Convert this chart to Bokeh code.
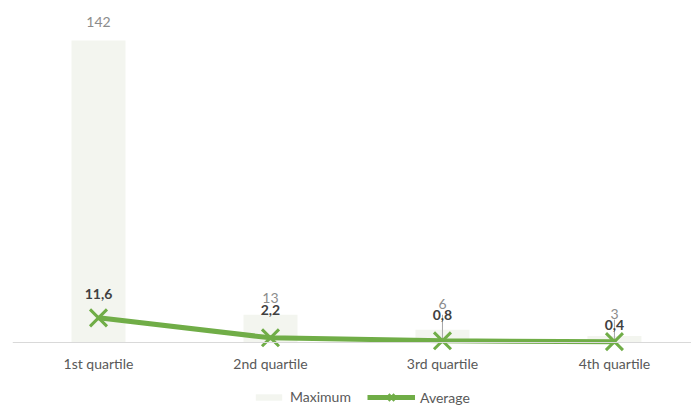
import math
from bokeh.plotting import figure
from bokeh.models import Range1d, FixedTicker, Legend, LegendItem, ColumnDataSource
from bokeh.core.properties import value
from bokeh.embed import file_html
from bokeh.resources import INLINE

# ---- data ----
categories = ["1st quartile", "2nd quartile", "3rd quartile", "4th quartile"]
maximum = [142, 13, 6, 3]
average = [11.6, 2.2, 0.8, 0.4]
average_labels = ["11,6", "2,2", "0,8", "0,4"]
maximum_labels = ["142", "13", "6", "3"]

# ---- styling (label offsets in screen px) ----
max_label_dy = [-18, -17, -26, -22]
avg_label_dy = [-24, -28, -26, -17]
leader_idx = [2, 3]
leader_len = [26, 22]

FONT = "Lato"
GREEN = "#70ad47"
BAR = "#f3f5ef"

xs = list(range(len(categories)))

p = figure(width=691, height=407, output_backend="svg", toolbar_location=None,
           x_range=Range1d(-0.5, 3.448), y_range=Range1d(-30.56, 160.8),
           y_axis_location=None, min_border_left=12, min_border_right=0,
           min_border_top=0, min_border_bottom=0)
p.outline_line_color = None
p.xgrid.visible = False
p.ygrid.visible = False
p.background_fill_color = "white"
p.border_fill_color = "white"

ax = p.xaxis[0]
ax.fixed_location = 0
ax.ticker = FixedTicker(ticks=xs)
ax.major_label_overrides = {i: c for i, c in zip(xs, categories)}
ax.axis_line_color = "#d9d9d9"
ax.axis_line_width = 1
ax.major_tick_line_color = None
ax.major_tick_out = 0
ax.major_tick_in = 0
ax.minor_tick_line_color = None
ax.minor_tick_out = 0
ax.major_label_text_font = FONT
ax.major_label_text_font_size = "14px"
ax.major_label_text_color = "#595959"
ax.major_label_standoff = 12

bars = p.vbar(x=xs, top=maximum, bottom=0, width=0.314, fill_color=BAR, line_color=None)

p.ray(x=[xs[i] for i in leader_idx], y=[average[i] for i in leader_idx],
      length=leader_len, angle=math.pi / 2, length_units="screen",
      line_color="#a6a6a6", line_width=1)

line = p.line(x=xs, y=average, line_color=GREEN, line_width=5)
marks = p.scatter(x=xs, y=average, marker="x", size=24, line_color=GREEN, line_width=3)

src_max = ColumnDataSource(dict(x=xs, y=maximum, t=maximum_labels, dy=max_label_dy))
p.text(x="x", y="y", text="t", y_offset="dy", source=src_max,
       text_font=value(FONT), text_font_size="14px", text_color="#8c8c8c",
       text_align="center", text_baseline="middle")

src_avg = ColumnDataSource(dict(x=xs, y=average, t=average_labels, dy=avg_label_dy))
p.text(x="x", y="y", text="t", y_offset="dy", source=src_avg,
       text_font=value(FONT), text_font_size="14px", text_font_style="bold",
       text_color="#404040", text_align="center", text_baseline="middle")

def make_legend(items, loc, gw, gh, lh):
    return Legend(items=items, location=loc, orientation="horizontal",
                  glyph_width=gw, glyph_height=gh, label_height=lh,
                  label_standoff=5, padding=0, margin=0, spacing=0,
                  border_line_color=None, background_fill_alpha=0,
                  label_text_font=FONT, label_text_font_size="14px",
                  label_text_color="#595959")

lg1 = make_legend([LegendItem(label="Maximum", renderers=[bars])], (240, 2), 33, 8, 16)
lg2 = make_legend([LegendItem(label="Average", renderers=[line, marks])], (355, -1), 48, 22, 22)
p.add_layout(lg1)
p.add_layout(lg2)

open("out.html", "w").write(file_html(p, INLINE))
